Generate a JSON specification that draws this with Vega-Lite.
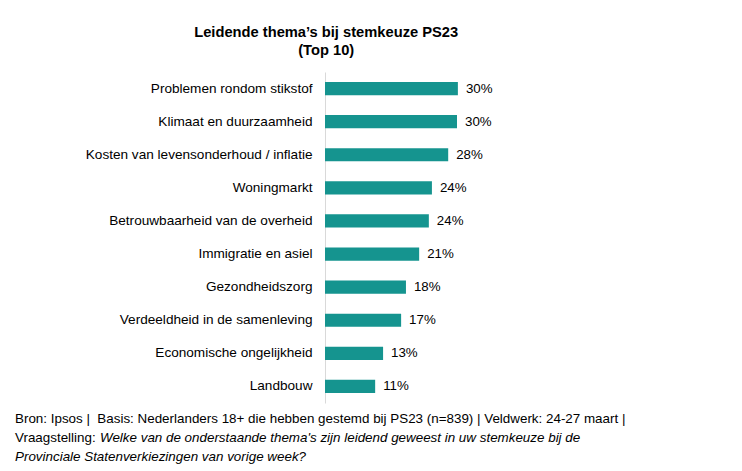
{
  "$schema": "https://vega.github.io/schema/vega-lite/v6.json",
  "padding": {"left": 15, "top": 25, "right": 5, "bottom": 5},
  "spacing": 7,
  "title": {
    "text": ["Leidende thema’s bij stemkeuze PS23", "(Top 10)"],
    "anchor": "middle",
    "font": "Liberation Sans",
    "fontSize": 14.7,
    "fontWeight": "bold",
    "color": "#000000",
    "lineHeight": 18,
    "baseline": "top",
    "offset": 14,
    "dx": 6
  },
  "config": {
    "view": {"stroke": null},
    "font": "Liberation Sans"
  },
  "vconcat": [
    {
      "width": 220,
      "height": 331,
      "data": {
        "values": [
          {"thema": "Problemen rondom stikstof", "aandeel": 0.302},
          {"thema": "Klimaat en duurzaamheid", "aandeel": 0.300},
          {"thema": "Kosten van levensonderhoud / inflatie", "aandeel": 0.280},
          {"thema": "Woningmarkt", "aandeel": 0.243},
          {"thema": "Betrouwbaarheid van de overheid", "aandeel": 0.236},
          {"thema": "Immigratie en asiel", "aandeel": 0.214},
          {"thema": "Gezondheidszorg", "aandeel": 0.184},
          {"thema": "Verdeeldheid in de samenleving", "aandeel": 0.173},
          {"thema": "Economische ongelijkheid", "aandeel": 0.132},
          {"thema": "Landbouw", "aandeel": 0.114}
        ]
      },
      "encoding": {
        "y": {
          "field": "thema",
          "type": "nominal",
          "sort": null,
          "scale": {"paddingInner": 0.6, "paddingOuter": 0.3},
          "axis": {
            "title": null,
            "ticks": false,
            "labelPadding": 13,
            "labelFontSize": 13.6,
            "labelColor": "#000000",
            "labelLimit": 0,
            "domainColor": "#d9d9d9",
            "domainWidth": 1,
            "minExtent": 310
          }
        },
        "x": {
          "field": "aandeel",
          "type": "quantitative",
          "scale": {"domain": [0, 0.5]},
          "axis": null
        }
      },
      "layer": [
        {"mark": {"type": "bar", "color": "#15948f"}},
        {
          "mark": {"type": "text", "align": "left", "baseline": "middle", "dx": 8, "fontSize": 13.3, "color": "#000000"},
          "encoding": {"text": {"field": "aandeel", "type": "quantitative", "format": ".0%"}}
        }
      ]
    },
    {
      "width": 220,
      "height": 56,
      "data": {
        "values": [
          {"regel": 1, "deel": "a", "tekst": "Bron: Ipsos |\u00a0 Basis: Nederlanders 18+ die hebben gestemd bij PS23 (n=839) | Veldwerk: 24-27 maart |"},
          {"regel": 2, "deel": "a", "tekst": "Vraagstelling:"},
          {"regel": 2, "deel": "b", "tekst": "Welke van de onderstaande thema's zijn leidend geweest in uw stemkeuze bij de"},
          {"regel": 3, "deel": "b", "tekst": "Provinciale Statenverkiezingen van vorige week?"}
        ]
      },
      "encoding": {
        "y": {"field": "regel", "type": "ordinal", "axis": null},
        "x": {"value": 0},
        "text": {"field": "tekst", "type": "nominal"}
      },
      "layer": [
        {
          "transform": [{"filter": "datum.deel === 'a'"}],
          "mark": {"type": "text", "align": "left", "baseline": "middle", "dx": -310, "fontSize": 13.4, "color": "#000000"}
        },
        {
          "transform": [{"filter": "datum.deel === 'b' && datum.regel === 2"}],
          "mark": {"type": "text", "align": "left", "baseline": "middle", "fontSize": 13.4, "fontStyle": "italic", "dx": -225, "color": "#000000"}
        },
        {
          "transform": [{"filter": "datum.deel === 'b' && datum.regel === 3"}],
          "mark": {"type": "text", "align": "left", "baseline": "middle", "fontSize": 13.4, "fontStyle": "italic", "dx": -310, "color": "#000000"}
        }
      ]
    }
  ]
}
